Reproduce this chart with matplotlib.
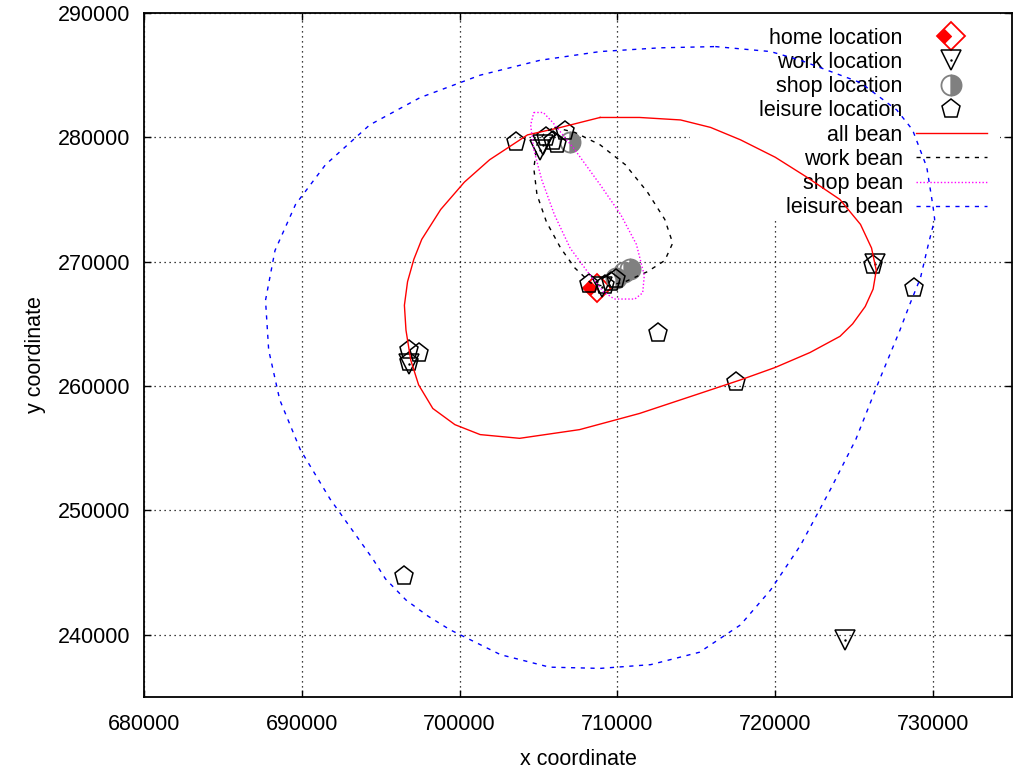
import numpy as np
import matplotlib
matplotlib.use("Agg")
import matplotlib.pyplot as plt
from matplotlib.legend_handler import HandlerTuple
from matplotlib.patches import Rectangle

plt.rcParams['font.family'] = ['Liberation Sans', 'DejaVu Sans']

# ---- data ----
home_x = [708700]
home_y = [267900]

work_x = [724400, 726300, 696800, 705100, 705300, 709000]
work_y = [239600, 269800, 261800, 279000, 279400, 268000]

shop_x = [707000, 710800, 710400, 709900]
shop_y = [279600, 269400, 269200, 268700]

leisure_x = [703600, 705500, 705900, 706200, 706700,
             708200, 709200, 709600, 709900,
             712600, 717500, 726200, 728800,
             696800, 697400, 696800, 696500]
leisure_y = [279600, 280000, 279700, 279500, 280500,
             268200, 268100, 268400, 268600,
             264300, 260300, 269700, 267900,
             262900, 262700, 261900, 244700]

all_bean_x = [708900, 711400, 714000, 715900, 717800, 720000, 722000, 724100,
              725400, 726100, 726400, 726200, 725700, 724900, 724100, 722200, 720000,
              717800, 715200, 711400, 707600, 703800, 701300, 699700, 698300,
              697400, 696900, 696600, 696500, 696700, 697100, 697600, 698800, 700300,
              701900, 704300, 706400]
all_bean_y = [281600, 281600, 281400, 280800, 279800, 278400, 276800, 275000,
              273000, 271100, 269300, 267800, 266400, 265000, 264000, 262700, 261500,
              260500, 259400, 257800, 256500, 255800, 256100, 256900, 258200,
              260100, 262100, 264500, 266500, 268400, 270200, 271800, 274200, 276400,
              278200, 280200, 280800]

work_bean_x = [706000, 707300, 708900, 710500, 711900, 713000, 713500, 713000,
               711900, 710500, 709200, 708300, 707300, 706400, 705500, 704900,
               704700, 704900, 705400]
work_bean_y = [280800, 280400, 279400, 277800, 275600, 273400, 271500, 270100,
               269200, 268400, 268000, 268300, 269500, 271100, 273200, 275400,
               277500, 279400, 280400]

shop_bean_x = [704700, 705300, 705900, 707300, 708900, 710200, 711200, 711700,
               711600, 711100, 709800, 709100, 708100, 707000, 706000, 705200,
               704700, 704500]
shop_bean_y = [282000, 282000, 281200, 279000, 276200, 273800, 271400, 268900,
               267500, 267000, 267000, 267600, 269200, 271100, 273800, 276600,
               279000, 281000]

leisure_bean_x = [716200, 719700, 721600, 725400, 727700, 728700, 729600, 730000,
                  730100, 729700, 729200, 728500, 727900, 726600, 725100, 723500,
                  721600, 719700, 717800, 715200, 712100, 708900, 705700, 702600,
                  699400, 698000, 696600, 695300, 694500, 691800, 689900, 688600,
                  687900, 687700, 688300, 689600, 691500, 694300, 697500, 701300,
                  705100, 708900, 712700]
leisure_bean_y = [287300, 286900, 286200, 284400, 282200, 280600, 277600, 274400,
                  273400, 271400, 268700, 266500, 264500, 260500, 255700, 251700,
                  247200, 243600, 240800, 238600, 237600, 237300, 237400, 238400,
                  240400, 241500, 242800, 244500, 246100, 250900, 254900, 258900,
                  262900, 266900, 270900, 274600, 277800, 281000, 283200, 285000,
                  286200, 286900, 287200]

x_ticks = [680000, 690000, 700000, 710000, 720000, 730000]
y_ticks = [240000, 250000, 260000, 270000, 280000, 290000]
x_limits = (680000, 735000)
y_limits = (235000, 290000)


def closed(v):
    return np.append(np.asarray(v, dtype=float), v[0])


FS = 15.5
fig = plt.figure(figsize=(10.17, 7.7), dpi=100)
ax = fig.add_axes([144 / 1017, 73 / 770, 868 / 1017, 684 / 770])
ax.set_xlim(*x_limits)
ax.set_ylim(*y_limits)
ax.set_xticks(x_ticks)
ax.set_yticks(y_ticks)
ax.set_xticklabels([str(t) for t in x_ticks])
ax.set_yticklabels([str(t) for t in y_ticks])
ax.tick_params(direction='in', length=5, width=1, top=True, right=True,
               labelsize=FS, pad=10)
ax.tick_params(axis='x', pad=12)
ax.set_axisbelow(True)
ax.grid(True, color='black', linestyle=(0, (1, 3)), linewidth=0.9)
for s in ax.spines.values():
    s.set_linewidth(1.3)

ax.set_xlabel('x coordinate', fontsize=FS, labelpad=10)
ax.set_ylabel('y coordinate', fontsize=FS, labelpad=8)

# white key box hiding the grid (like gnuplot's key)
ax.add_patch(Rectangle((0.629, 0.7003), 0.357, 0.2997, transform=ax.transAxes,
                       facecolor='white', edgecolor='none', zorder=1))

# home marker: open diamond with a small filled diamond in its left half
left_diamond = [(-1, 0), (-0.5, 0.5), (0, 0), (-0.5, -0.5), (-1, 0)]
h_home, = ax.plot(home_x, home_y, linestyle='none', marker='D', markersize=14,
                  markerfacecolor='none', markeredgecolor='red',
                  markeredgewidth=1.3, zorder=3)
h_homefill, = ax.plot(home_x, home_y, linestyle='none', marker=left_diamond,
                      markersize=19.8, markerfacecolor='red', markeredgecolor='red',
                      markeredgewidth=0.8, zorder=3)
h_work, = ax.plot(work_x, work_y, linestyle='none', marker='v', markersize=14.5,
                  markerfacecolor='none', markeredgecolor='black', markeredgewidth=1.1, zorder=3)
h_workdot, = ax.plot(work_x, work_y, linestyle='none', marker='.', markersize=1.5,
                     color='black', zorder=3)
h_shop, = ax.plot(shop_x, shop_y, linestyle='none', marker='o', markersize=14.5,
                  markerfacecolor='#808080', markerfacecoloralt='none', fillstyle='right',
                  markeredgecolor='#808080', markeredgewidth=1.3, zorder=3)
h_leis, = ax.plot(leisure_x, leisure_y, linestyle='none', marker='p', markersize=14,
                  markerfacecolor='none', markeredgecolor='black', markeredgewidth=1.1, zorder=3)

l_all, = ax.plot(closed(all_bean_x), closed(all_bean_y), color='#ff0000', lw=1.0, zorder=4)
l_work, = ax.plot(closed(work_bean_x), closed(work_bean_y), color='black', lw=1.0,
                  linestyle=(0, (3, 4)), zorder=4)
l_shop, = ax.plot(closed(shop_bean_x), closed(shop_bean_y), color='#ff00ff', lw=1.0,
                  linestyle=(0, (1, 1.5)), zorder=4)
l_leis, = ax.plot(closed(leisure_bean_x), closed(leisure_bean_y), color='#0000ff', lw=1.0,
                  linestyle=(0, (3, 4)), zorder=4)

handles = [(h_home, h_homefill), (h_work, h_workdot), h_shop, h_leis,
           l_all, l_work, l_shop, l_leis]
labels = ['home location', 'work location', 'shop location', 'leisure location',
          'all bean', 'work bean', 'shop bean', 'leisure bean']
leg = ax.legend(handles, labels, loc='upper right', bbox_to_anchor=(0.9758, 0.9848),
                markerfirst=False, frameon=False,
                fontsize=FS, labelspacing=0.15, handlelength=3.3, handletextpad=0.6,
                borderpad=0.2, borderaxespad=0.0,
                handler_map={tuple: HandlerTuple(ndivide=1, pad=0)})
leg.set_zorder(1.5)

fig.savefig('out.png', dpi=100)
